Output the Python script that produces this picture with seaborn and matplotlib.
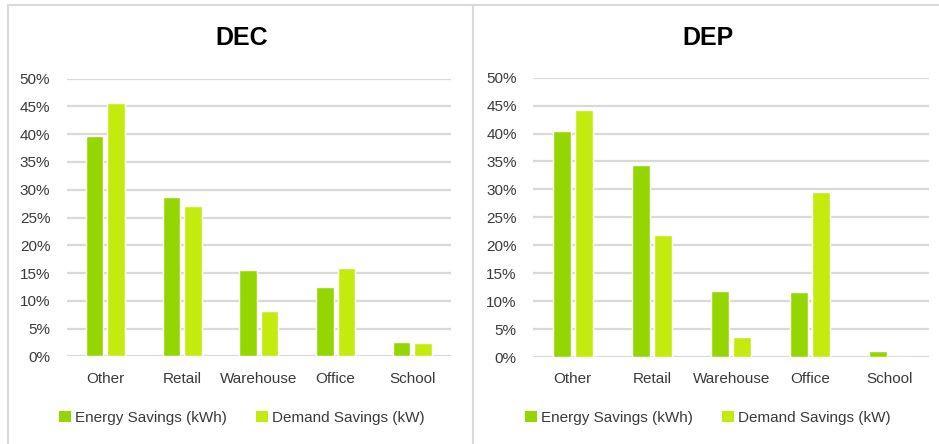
import matplotlib
matplotlib.use("Agg")
import matplotlib.pyplot as plt
from matplotlib.lines import Line2D
from matplotlib.patches import Patch
from matplotlib.ticker import FuncFormatter
import pandas as pd
import seaborn as sns

# Savings share by building type
categories = ["Other", "Retail", "Warehouse", "Office", "School"]
series_names = ["Energy Savings (kWh)", "Demand Savings (kW)"]

dec_energy = [0.396, 0.287, 0.155, 0.124, 0.026]
dec_demand = [0.456, 0.270, 0.082, 0.159, 0.024]

dep_energy = [0.405, 0.343, 0.118, 0.116, 0.011]
dep_demand = [0.442, 0.218, 0.036, 0.295, 0.0]

y_ticks = [0.0, 0.05, 0.10, 0.15, 0.20, 0.25, 0.30, 0.35, 0.40, 0.45, 0.50]

colors = ["#96D600", "#C4EB0E"]
grid_color = "#D9D9D9"
text_color = "#3A3A3A"

sns.set_theme(style="white")
plt.rcParams["font.family"] = ["Liberation Sans", "DejaVu Sans"]

W, H = 939, 444
fig = plt.figure(figsize=(W / 100, H / 100), dpi=100)


def frac(x0, y0, x1, y1):
    return [x0 / W, 1 - y1 / H, (x1 - x0) / W, (y1 - y0) / H]


def long_frame(energy, demand):
    rows = []
    for name, vals in zip(series_names, [energy, demand]):
        for cat, v in zip(categories, vals):
            rows.append({"Type": cat, "Series": name, "Share": v})
    return pd.DataFrame(rows)


def draw_panel(rect, title, energy, demand, panel_center):
    ax = fig.add_axes(rect)
    df = long_frame(energy, demand)
    sns.barplot(data=df, x="Type", y="Share", hue="Series", order=categories,
                hue_order=series_names, palette=colors, width=0.56, gap=0.18,
                saturation=1, ax=ax, legend=False, zorder=3)
    ax.set_ylim(0, 0.5)
    ax.set_xlim(-0.5, len(categories) - 0.5)
    ax.set_yticks(y_ticks)
    ax.yaxis.set_major_formatter(FuncFormatter(lambda v, _: f"{round(v * 100)}%"))
    ax.yaxis.grid(True, color=grid_color, linewidth=1.6, zorder=0)
    ax.set_axisbelow(True)
    for s in ax.spines.values():
        s.set_visible(False)
    ax.tick_params(axis="both", length=0, labelsize=11, colors=text_color)
    ax.tick_params(axis="y", pad=12)
    ax.tick_params(axis="x", pad=11)
    ax.set_xlabel("")
    ax.set_ylabel("")

    fig.text(panel_center / W, 1 - 38 / H, title, ha="center", va="center",
             fontsize=18, fontweight="bold", color="#000000")

    handles = [Patch(facecolor=c, edgecolor="none") for c in colors]
    fig.legend(handles, series_names, loc="center",
               bbox_to_anchor=(panel_center / W, 1 - 418 / H), ncol=2,
               frameon=False, fontsize=11, handlelength=0.75, handleheight=0.75,
               handletextpad=0.3, columnspacing=1.9, labelcolor=text_color)
    return ax


draw_panel(frac(67, 78.7, 450.7, 356.3), "DEC", dec_energy, dec_demand, 242)
draw_panel(frac(533.3, 77.7, 929, 357), "DEP", dep_energy, dep_demand, 708)

# Panel frames
frame_kw = dict(color=grid_color, linewidth=1.5, transform=None)
for xs, ys in [((7.5, 7.5), (5, 444)),
               ((7.5, 939), (5, 5)),
               ((472.5, 472.5), (5, 444))]:
    fig.add_artist(Line2D([xs[0], xs[1]], [H - ys[0], H - ys[1]], **frame_kw))

fig.savefig("out.png", dpi=100)
